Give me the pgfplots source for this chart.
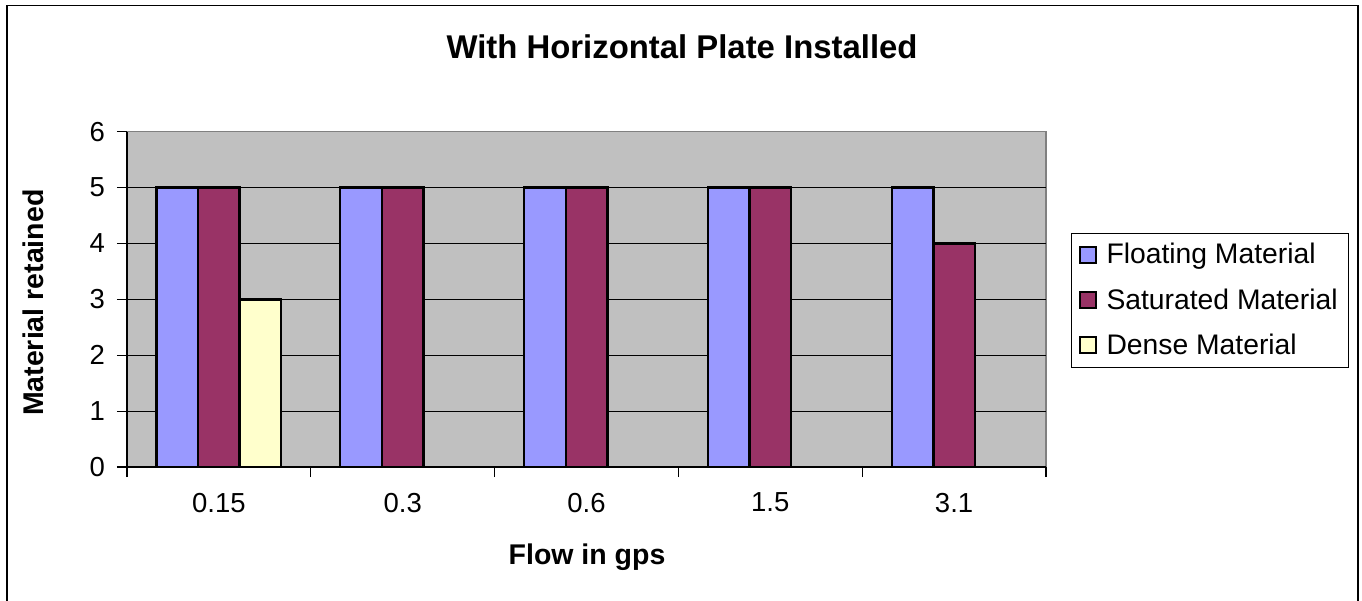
\documentclass[border=0pt]{standalone}
\usepackage{pgfplots}
\pgfplotsset{compat=1.18}
\usepackage{fontspec}
\setmainfont{Liberation Sans}
\definecolor{floatc}{HTML}{9999FF}
\definecolor{satc}{HTML}{993366}
\definecolor{densec}{HTML}{FFFFCC}
\definecolor{plotbg}{HTML}{C0C0C0}
\begin{document}
\begin{tikzpicture}
\useasboundingbox (-63.5bp,-67bp) rectangle (617.5bp,233.5bp);
\draw[line width=0.9bp] (-60bp,-70bp) -- (-60bp,230.75bp) -- (615.5bp,230.75bp) -- (615.5bp,-70bp);
\begin{axis}[
  at={(0,0)}, anchor=south west,
  scale only axis, width=459.5bp, height=167.65bp,
  ybar=0pt, bar width=20.8bp,
  xmin=-0.5, xmax=4.5, ymin=0, ymax=6,
  xtick={-0.5,0.5,...,4.5}, xticklabels={},
  extra x ticks={0,1,2,3,4},
  extra x tick labels={0.15,0.3,0.6,1.5,3.1},
  extra x tick style={major tick length=0pt},
  ytick={0,...,5}, extra y ticks={6}, extra y tick style={grid=none},
  ymajorgrids, grid style={black, line width=0.5bp},
  axis x line*=bottom, axis y line*=left,
  axis line style={black, line width=0.6bp},
  axis background/.style={fill=plotbg, draw=gray, line width=0.6bp},
  tick align=outside,
  major tick length=5bp,
  tick style={black, line width=0.6bp},
  /pgf/number format/assume math mode=true,
  tick label style={font=\fontsize{13.8}{15}\selectfont},
  yticklabel style={xshift=-2.5bp},
  xticklabel style={yshift=-9.5bp},
  xlabel={\textbf{Flow in gps}},
  ylabel={\textbf{Material retained}},
  label style={font=\fontsize{14.3}{16}\selectfont},
  xlabel style={at={(axis description cs:0.5006,-0.2700)}, anchor=center},
  ylabel style={at={(axis description cs:-0.1023,0.49)}, anchor=center},
  legend style={at={(rel axis cs:1.0272,0.698)}, anchor=north west,
    draw=black, line width=0.5bp, font=\fontsize{14.2}{15}\selectfont,
    row sep=6.8bp, column sep=3bp, inner xsep=3.5bp, inner ysep=3bp,
    nodes={inner sep=2bp}},
  legend cell align=left,
  legend image code/.code={\draw[#1, line width=1bp] (0bp,-4bp) rectangle (8bp,4bp);},
]
\addplot[draw=black, line width=1.2bp, fill=floatc] coordinates {(0,5) (1,5) (2,5) (3,5) (4,5)};
\addplot[draw=black, line width=1.2bp, fill=satc] coordinates {(0,5) (1,5) (2,5) (3,5) (4,4)};
\addplot[draw=black, line width=1.2bp, fill=densec] coordinates {(0,3)};
\legend{Floating Material, Saturated Material, Dense Material}
\end{axis}
\node[font=\fontsize{16.5}{18}\selectfont\bfseries] at (277.5bp,210bp) {With Horizontal Plate Installed};
\end{tikzpicture}
\end{document}
